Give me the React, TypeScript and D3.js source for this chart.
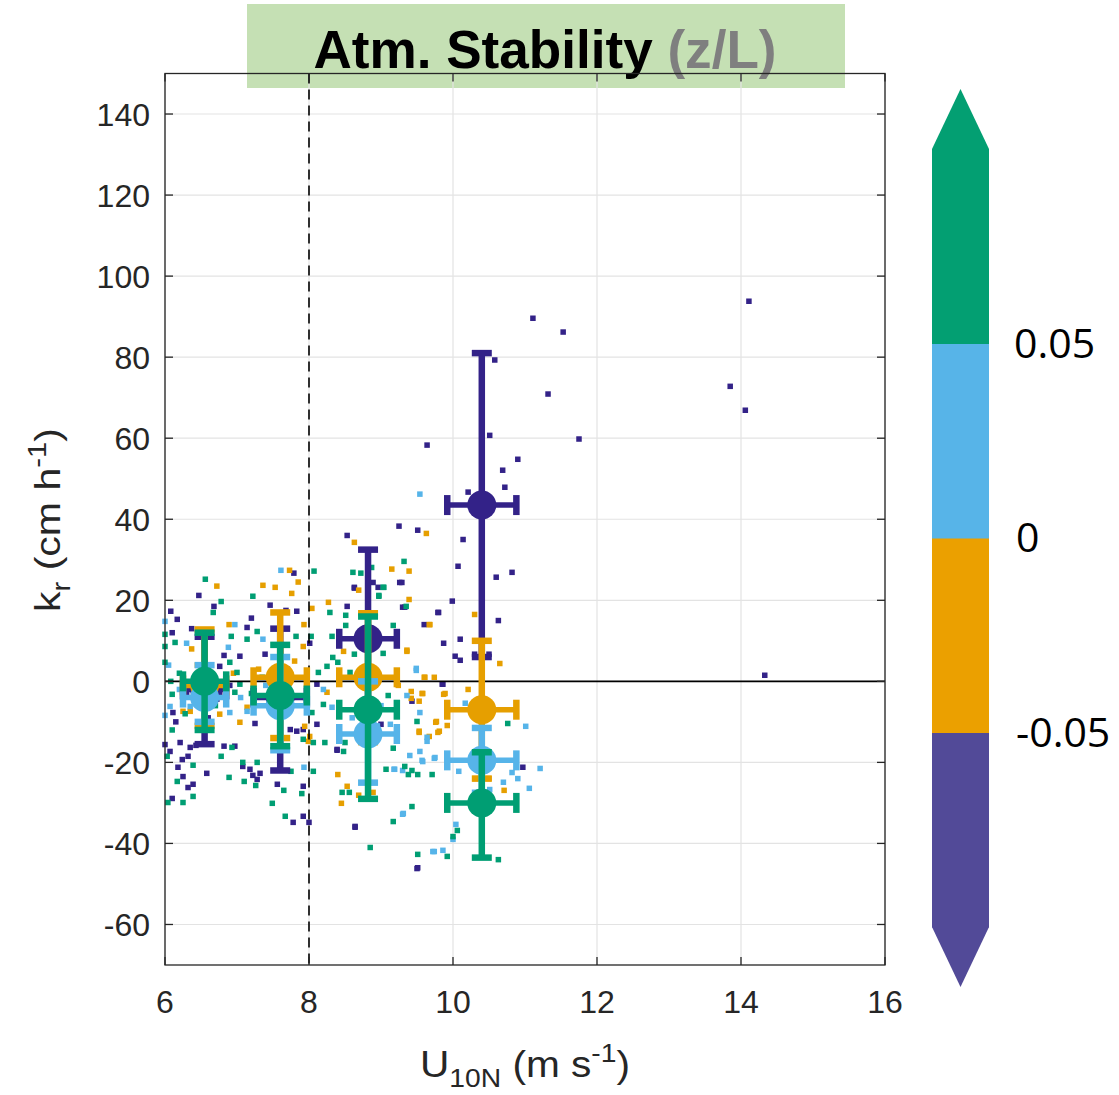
import React from "react";
import * as d3 from "d3";

// ---------- data ----------
const xTicks = [6, 8, 10, 12, 14, 16];
const yTicks = [-60, -40, -20, 0, 20, 40, 60, 80, 100, 120, 140];
const cbTicks = [-0.05, 0, 0.05];
const cbLabels = ["-0.05", "0", "0.05"];

const purplePts: [number, number][] = [
  [9.25, 38.3], [9.51, 37.3], [8.53, 36], [7.79, 26.7], [6.47, 21.2], [6.68, 18.5], [6.08, 17.3],
  [7.46, 18.8], [7.2, 15.6], [7.83, 17.3], [7.68, 17.5], [8.53, 18.5], [8.63, 23], [8.96, 23.2],
  [9.26, 24.4], [9.3, 18.3], [9.8, 17], [9.6, 14], [9.87, 9.4], [6.37, 13], [7.14, 13.3], [6.82, 6.4],
  [8.01, 9.4], [9.86, -0.7], [6.76, 3.7], [7.04, 6.2], [7.39, 6.7], [6.17, 15.3], [6.1, 12],
  [8.11, -0.7], [6.0, -15.6], [6.07, -17.3], [6.21, -15.1], [6.24, -19.3], [6.35, -16.3], [6.32, -18.5],
  [6.43, -15.8], [6.82, -16], [6.97, -16], [6.18, -21.2], [6.25, -23.5], [6.58, -22.7], [6.32, -26.2],
  [6.39, -25.4], [6.1, -28.9], [7.08, -21], [7.18, -21.7], [7.32, -22.7], [7.22, -23.2], [7.28, -24.2],
  [7.56, -25.4], [7.92, -25.9], [7.92, -33.3], [7.78, -34.8], [8.0, -34.8], [8.64, -36], [9.5, -46.2],
  [6.72, -4.4], [6.76, -2.7], [6.65, -5.4], [6.11, -7.7], [7.25, -10.4], [7.74, -11.9], [7.83, -12.3],
  [7.92, -11.9], [8.11, -10.6], [8.39, -17], [9.43, -4.9], [9.0, -10.6],
  [10.07, 28.4], [10.6, 25.7], [10.82, 26.9], [9.99, 19.8], [9.79, 17], [10.1, 10.4], [10.63, 15],
  [10.03, 6.2], [10.1, 5.2], [10.3, 6.7], [10.5, 6.7], [9.85, -0.7], [10.97, -21.2], [8.64, -35.8],
  [8.89, 24.4], [9.29, 24.4], [9.33, 18.3], [8.63, 23.2], [8.39, -16.8], [9.51, -46],
  [11.11, 89.6], [11.53, 86.2], [10.58, 79.3], [11.32, 70.9], [10.51, 60.7], [9.64, 58.3], [11.75, 59.8],
  [10.9, 54.8], [10.69, 52.1], [10.72, 47.9], [10.21, 46.7], [10.14, 35],
  [14.11, 93.8], [13.85, 72.8], [14.06, 66.9], [14.33, 1.5],
  [6.3, -3], [6.5, 2], [6.9, -1], [7.5, -2], [7.7, 3], [6.15, -10], [6.6, -9],
];

const orangePts: [number, number][] = [
  [9.63, 36.5], [8.63, 34.3], [7.73, 27.4], [7.85, 24.5], [6.72, 23.5], [7.36, 23.7], [7.53, 23.2],
  [7.76, 21.7], [9.15, 27.7], [9.39, 27.2], [8.27, 19.5], [8.04, 18], [9.39, 20.2], [8.69, 22.5],
  [6.89, 14], [7.93, 14], [9.67, 14], [6.37, 8], [7.92, 8.6], [9.36, 7.4], [9.6, 1], [9.74, 1], [8.48, 7.4],
  [6.25, -7.4], [6.35, -7.4], [6.76, -8.1], [7.04, -10.1], [7.14, -6.4], [7.94, -11.1], [7.99, -14.8],
  [8.4, -23], [8.53, -25.9], [8.45, -30.1], [8.69, -28.1], [9.53, -4.9], [9.57, -3], [9.42, -2.5],
  [9.87, -3.2], [9.76, -10.1], [9.53, -12.6], [9.79, -12.6], [9.24, -1], [8.01, -13.6], [8.25, -2.7],
  [9.68, 14], [9.36, 7.7], [10.3, 16.5], [10.65, 4.4], [9.61, 1], [9.89, -3], [10.21, -2], [9.58, -3],
  [9.77, -9.9], [9.92, -10.9], [9.81, -12.3], [9.53, -12.3], [9.67, -13.6], [10.31, -24], [10.5, -24],
  [10.71, -26.9], [8.89, -27.4], [9.42, -4.2],
  [6.45, 4], [7.3, 3], [7.8, 5], [7.45, -4], [6.95, 2],
];

const bluePts: [number, number][] = [
  [7.61, 27.4], [6.97, 14], [6.0, 14.8], [6.3, 9.4], [7.36, 10.4], [9.49, 2.7], [6.88, 8.4],
  [6.0, -8.4], [6.35, -6.2], [6.9, -7.7], [7.93, -21.2], [9.18, -21.7], [9.31, -32.6], [9.57, -19.5],
  [9.74, -19], [9.4, -18.3], [9.72, -42], [9.86, -41.7], [9.13, -10.6], [9.36, -3.5], [9.64, -14.8],
  [6.07, -6.2], [7.14, -7.4], [8.2, -2], [8.32, -6.4],
  [9.49, 3.2], [10.17, -5.4], [11.01, -11.1], [11.21, -21.5], [11.06, -26.4], [10.9, -24], [10.82, -22.5],
  [10.7, -24.9], [9.58, -19.8], [9.75, -18.8], [9.3, -22], [9.19, -21.7], [9.54, -17.3], [9.3, -32.8],
  [10.04, -35.3], [10.0, -39], [9.74, -42], [9.54, -7.7], [9.64, -13.8], [10.08, -22.2],
  [10.51, -26.7], [9.54, 46.2],
  [6.05, 4], [6.2, -2], [7.05, -4], [7.4, -1], [7.75, -6], [8.6, -9], [8.95, -11], [9.0, -6],
];

const greenPts: [number, number][] = [
  [6.56, 25.2], [6.78, 19.7], [8.07, 27.2], [7.22, 21], [6.67, 17], [8.61, 26.9], [8.72, 26.7],
  [8.87, 28.1], [9.32, 29.6], [9.03, 23.2], [8.97, 21], [9.35, 18.5], [8.29, 17], [8.51, 16.3],
  [8.51, 13.8], [6.0, 11.6], [6.14, 9.6], [6.92, 11.1], [7.14, 10.4], [7.28, 12.3], [7.82, 11.1],
  [8.03, 11.1], [8.32, 11.1], [8.63, 6.7], [9.17, 13.8], [9.03, 6.9], [6.0, 8.6], [6.0, 4.7], [6.9, 4.7],
  [7.0, 2.2], [8.33, 5.9], [8.25, 3.7], [8.13, 2.2], [8.4, 4.7], [8.57, 2.2],
  [6.1, -3.2], [6.03, -18.5], [6.04, -29.9], [6.17, -24.7], [6.25, -29.9], [6.39, -28.4], [6.39, -20.7],
  [6.78, -18.5], [6.89, -23.7], [6.93, -16.3], [7.08, -20], [7.28, -20], [7.1, -24.7], [7.26, -25.7],
  [7.49, -30.1], [7.65, -26.9], [7.75, -22.2], [7.9, -27.7], [7.67, -33.3], [8.06, -22.2], [7.92, -14.3],
  [8.06, -15.1], [8.22, -15.1], [8.5, -15.1], [8.46, -27.4], [8.56, -27.4], [8.85, -41], [9.07, -21.7],
  [9.17, -16.5], [9.33, -21], [9.38, -23], [9.51, -23], [9.71, -23], [9.43, -30.9], [9.17, -34.6],
  [9.51, -42.7], [9.92, -43.2], [9.5, -9.9], [9.1, -3.5], [7.04, -0.7], [6.97, -2.7], [8.04, -7.7],
  [8.2, -5.7], [8.48, -17.3],
  [9.04, 23.2], [8.97, 21.2], [9.43, -22], [10.76, -10.4], [10.0, -38.3], [10.06, -36.8], [10.63, -44],
  [6.08, 0], [6.2, 2], [6.28, -8], [6.7, -6], [7.2, -3], [7.35, 1], [7.55, -8], [7.95, -4], [6.1, -12],
];

// error-bar summaries for the four wind-speed bins
const binX = [6.55, 7.6, 8.82, 10.4];
const binXErr = [0.3, 0.37, 0.4, 0.48];
const purpleMean = [-2, -4, 10.5, 43.5];
const purpleLow = [-15.5, -22, -12, 6];
const purpleHigh = [11, 13, 32.5, 81];
const orangeMean = [-1, 1, 1, -7];
const orangeLow = [-11, -14, -15, -24];
const orangeHigh = [12.8, 17, 16.8, 10];
const blueMean = [-4, -6, -13, -19.5];
const blueLow = [-10, -17, -25, -27.5];
const blueHigh = [4, 6, 0, -11.5];
const greenMean = [0, -3.5, -7, -30];
const greenLow = [-12, -16, -29, -43.5];
const greenHigh = [12, 9, 16, -17.5];

const C_PURPLE = "#332288";
const C_ORANGE = "#e69f00";
const C_BLUE = "#56b4e9";
const C_GREEN = "#009e73";

const series = [
  { pts: purplePts, mean: purpleMean, low: purpleLow, high: purpleHigh, color: C_PURPLE },
  { pts: orangePts, mean: orangeMean, low: orangeLow, high: orangeHigh, color: C_ORANGE },
  { pts: bluePts, mean: blueMean, low: blueLow, high: blueHigh, color: C_BLUE },
  { pts: greenPts, mean: greenMean, low: greenLow, high: greenHigh, color: C_GREEN },
];

// colorbar segments
const cbColors = ["#524a98", "#eba000", "#57b4e8", "#039f72"];
const cbEdges = [-0.1, -0.05, 0, 0.05, 0.1];

export default function App() {
  const W = 1119, H = 1095;
  const L = 165, R = 885, T = 73.5, B = 965;
  const x = d3.scaleLinear().domain([6, 16]).range([L, R]);
  const y = d3.scaleLinear().domain([-70, 150]).range([B, T]);
  const cb = d3.scaleLinear().domain([-0.1, 0.1]).range([927, 149]);
  const axisColor = "#262626";
  const tickFont = "'Liberation Sans', Arial, Helvetica, sans-serif";
  const sq = 5.5;
  const cbL = 932, cbR = 989;
  const cbMid = (cbL + cbR) / 2;

  return (
    <svg width={W} height={H} style={{ position: "absolute", left: 0, top: 0, background: "#fff" }}>
      {/* title */}
      <rect x={247} y={4} width={598} height={84} fill="#c5e0b4" />
      <text x={545} y={68} textAnchor="middle" fontFamily={tickFont} fontWeight="bold" fontSize={54}
        textLength={463} lengthAdjust="spacingAndGlyphs">
        <tspan fill="#000">Atm. Stability </tspan>
        <tspan fill="#7f7f7f">(z/L)</tspan>
      </text>

      {/* grid */}
      {xTicks.map((t) => (
        <line key={"gx" + t} x1={x(t)} x2={x(t)} y1={T} y2={B} stroke="#e3e3e3" strokeWidth={1.2} />
      ))}
      {yTicks.map((t) => (
        <line key={"gy" + t} x1={L} x2={R} y1={y(t)} y2={y(t)} stroke="#e3e3e3" strokeWidth={1.2} />
      ))}

      {/* scatter */}
      {series.map((s, si) => (
        <g key={"s" + si} fill={s.color}>
          {s.pts.map((p, i) => (
            <rect key={i} x={x(p[0]) - sq / 2} y={y(p[1]) - sq / 2} width={sq} height={sq} />
          ))}
        </g>
      ))}

      {/* zero line and dashed threshold */}
      <line x1={L} x2={R} y1={y(0)} y2={y(0)} stroke="#000" strokeWidth={1.6} />
      <line x1={x(8)} x2={x(8)} y1={T} y2={B} stroke="#000" strokeWidth={1.6} strokeDasharray="10,6" />

      {/* error bars */}
      {series.map((s, si) => (
        <g key={"e" + si} stroke={s.color} fill={s.color}>
          {binX.map((bx, i) => {
            const cx = x(bx), cy = y(s.mean[i]);
            const xl = x(bx - binXErr[i]), xr = x(bx + binXErr[i]);
            const yl = y(s.low[i]), yh = y(s.high[i]);
            return (
              <g key={i}>
                <line x1={cx} x2={cx} y1={yl} y2={yh} strokeWidth={6.5} />
                <line x1={cx - 10} x2={cx + 10} y1={yl} y2={yl} strokeWidth={6.5} />
                <line x1={cx - 10} x2={cx + 10} y1={yh} y2={yh} strokeWidth={6.5} />
                <line x1={xl} x2={xr} y1={cy} y2={cy} strokeWidth={5.5} />
                <line x1={xl} x2={xl} y1={cy - 10} y2={cy + 10} strokeWidth={6.5} />
                <line x1={xr} x2={xr} y1={cy - 10} y2={cy + 10} strokeWidth={6.5} />
                <circle cx={cx} cy={cy} r={14.5} stroke="none" />
              </g>
            );
          })}
        </g>
      ))}

      {/* axes box */}
      <rect x={L} y={T} width={R - L} height={B - T} fill="none" stroke={axisColor} strokeWidth={1.3} />
      {xTicks.map((t) => (
        <g key={"tx" + t} stroke={axisColor} strokeWidth={1.3}>
          <line x1={x(t)} x2={x(t)} y1={B} y2={B - 8} />
          <line x1={x(t)} x2={x(t)} y1={T} y2={T + 8} />
        </g>
      ))}
      {yTicks.map((t) => (
        <g key={"ty" + t} stroke={axisColor} strokeWidth={1.3}>
          <line x1={L} x2={L + 8} y1={y(t)} y2={y(t)} />
          <line x1={R} x2={R - 8} y1={y(t)} y2={y(t)} />
        </g>
      ))}
      {xTicks.map((t) => (
        <text key={"lx" + t} x={x(t)} y={1013} textAnchor="middle" fontFamily={tickFont} fontSize={32} fill={axisColor}>
          {t}
        </text>
      ))}
      {yTicks.map((t) => (
        <text key={"ly" + t} x={150} y={y(t) + 11.5} textAnchor="end" fontFamily={tickFont} fontSize={32} fill={axisColor}>
          {t}
        </text>
      ))}

      {/* axis labels */}
      <text transform="translate(60,520) rotate(-90)" textAnchor="middle" fontFamily={tickFont} fontSize={35} fill={axisColor}
        textLength={184} lengthAdjust="spacingAndGlyphs">
        <tspan>k</tspan>
        <tspan fontSize={25} dy={10}>r</tspan>
        <tspan dy={-10}> (cm h</tspan>
        <tspan fontSize={25} dy={-14}>-1</tspan>
        <tspan dy={14}>)</tspan>
      </text>
      <text x={525} y={1077} textAnchor="middle" fontFamily={tickFont} fontSize={36} fill={axisColor}
        textLength={210} lengthAdjust="spacingAndGlyphs">
        <tspan>U</tspan>
        <tspan fontSize={25} dy={10}>10N</tspan>
        <tspan dy={-10}> (m s</tspan>
        <tspan fontSize={25} dy={-15}>-1</tspan>
        <tspan dy={15}>)</tspan>
      </text>

      {/* colorbar */}
      {cbColors.map((c, i) => (
        <rect key={"cb" + i} x={cbL} y={cb(cbEdges[i + 1])} width={cbR - cbL} height={cb(cbEdges[i]) - cb(cbEdges[i + 1]) + 0.5} fill={c} />
      ))}
      <path d={`M${cbL},${cb(0.1)} L${cbMid},${cb(0.1) - 60} L${cbR},${cb(0.1)} Z`} fill={cbColors[3]} />
      <path d={`M${cbL},${cb(-0.1)} L${cbMid},${cb(-0.1) + 60} L${cbR},${cb(-0.1)} Z`} fill={cbColors[0]} />
      {cbTicks.map((t, i) => (
        <text key={"cbt" + t} x={t > 0 ? 1014 : 1016} y={cb(t) + 14} fontFamily="'Open Sans', 'Noto Sans', sans-serif"
          fontSize={41} fill="#000">
          {cbLabels[i]}
        </text>
      ))}
    </svg>
  );
}
